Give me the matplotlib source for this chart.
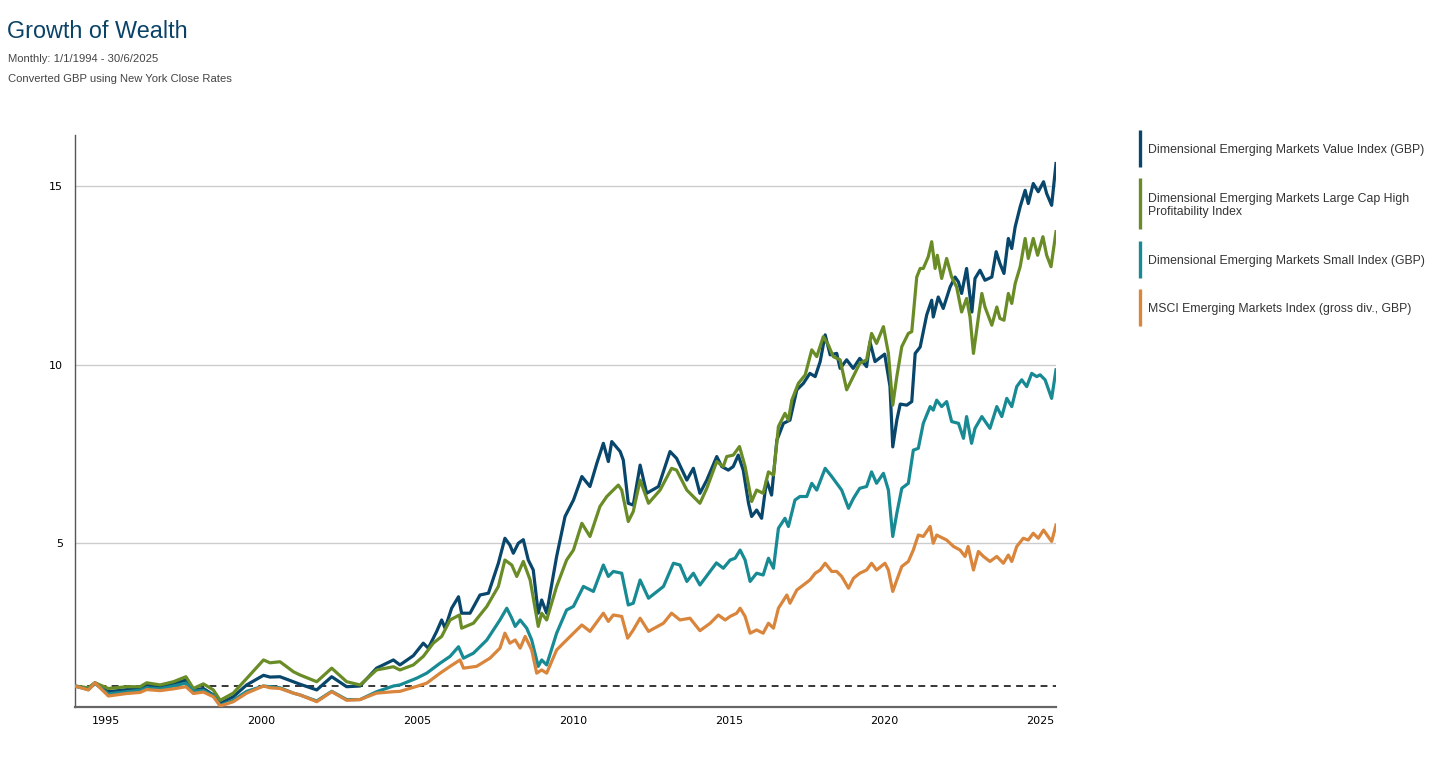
import matplotlib
matplotlib.use("Agg")
from matplotlib import pyplot as plt
from matplotlib.lines import Line2D

# growth of wealth (decimal year, value)
value_years = [1994.0, 1994.44, 1994.65, 1995.08, 1995.67, 1996.1, 1996.31, 1996.74, 1997.17, 1997.57,
               1997.81, 1998.13, 1998.45, 1998.67, 1999.09, 1999.52, 2000.06, 2000.27, 2000.59, 2001.02,
               2001.23, 2001.77, 2002.25, 2002.73, 2003.16, 2003.69, 2004.23, 2004.44, 2004.87, 2005.19,
               2005.35, 2005.62, 2005.78, 2005.89, 2006.1, 2006.32, 2006.42, 2006.69, 2007.01, 2007.28,
               2007.6, 2007.81, 2007.97, 2008.08, 2008.24, 2008.4, 2008.56, 2008.72, 2008.88, 2008.99,
               2009.15, 2009.47, 2009.74, 2010.01, 2010.28, 2010.54, 2010.76, 2010.97, 2011.13, 2011.24,
               2011.51, 2011.61, 2011.77, 2011.93, 2012.15, 2012.36, 2012.74, 2013.11, 2013.32, 2013.65,
               2013.86, 2014.07, 2014.29, 2014.61, 2014.77, 2014.98, 2015.14, 2015.3, 2015.46, 2015.63,
               2015.73, 2015.89, 2016.05, 2016.21, 2016.37, 2016.54, 2016.75, 2016.96, 2017.18, 2017.39,
               2017.6, 2017.77, 2017.93, 2018.09, 2018.25, 2018.46, 2018.57, 2018.78, 2018.99, 2019.2,
               2019.42, 2019.53, 2019.69, 2020.0, 2020.17, 2020.26, 2020.39, 2020.5, 2020.71, 2020.87,
               2020.98, 2021.14, 2021.35, 2021.51, 2021.56, 2021.72, 2021.88, 2022.1, 2022.26, 2022.37,
               2022.47, 2022.63, 2022.8, 2022.9, 2023.06, 2023.22, 2023.44, 2023.58, 2023.7, 2023.83,
               2023.97, 2024.08, 2024.19, 2024.35, 2024.51, 2024.61, 2024.77, 2024.93, 2025.1, 2025.2,
               2025.36, 2025.5]
value_vals = [1.0, 0.93, 1.09, 0.84, 0.9, 0.95, 1.03, 0.98, 1.05, 1.17,
              0.89, 0.93, 0.75, 0.51, 0.7, 1.03, 1.3, 1.25, 1.26, 1.12,
              1.05, 0.89, 1.26, 0.98, 1.0, 1.5, 1.73, 1.59, 1.85, 2.2,
              2.06, 2.53, 2.85, 2.62, 3.18, 3.5, 3.04, 3.04, 3.55, 3.6,
              4.44, 5.14, 4.95, 4.72, 5.0, 5.1, 4.53, 4.25, 3.04, 3.41,
              3.04, 4.63, 5.75, 6.21, 6.87, 6.59, 7.24, 7.8, 7.29, 7.85,
              7.57, 7.33, 6.12, 6.07, 7.19, 6.4, 6.59, 7.57, 7.38, 6.77,
              7.1, 6.4, 6.77, 7.43, 7.15, 7.05, 7.15, 7.47, 7.05, 6.12,
              5.75, 5.93, 5.7, 6.77, 6.35, 7.89, 8.36, 8.45, 9.3, 9.48,
              9.76, 9.67, 10.09, 10.84, 10.28, 10.32, 9.9, 10.14, 9.9, 10.18,
              9.95, 10.64, 10.09, 10.3, 9.4, 7.7, 8.45, 8.9, 8.87, 8.97,
              10.32, 10.5, 11.4, 11.81, 11.34, 11.9, 11.58, 12.18, 12.46, 12.32,
              12.0, 12.7, 11.48, 12.42, 12.65, 12.37, 12.46, 13.17, 12.84, 12.56,
              13.54, 13.26, 13.87, 14.43, 14.89, 14.52, 15.08, 14.85, 15.13, 14.8,
              14.47, 15.64]

hiprof_years = [1994.0, 1994.44, 1994.65, 1995.08, 1995.67, 1996.1, 1996.31, 1996.74, 1997.17, 1997.57,
                1997.81, 1998.13, 1998.45, 1998.67, 1999.09, 1999.52, 2000.06, 2000.27, 2000.59, 2001.02,
                2001.23, 2001.77, 2002.25, 2002.73, 2003.16, 2003.69, 2004.23, 2004.44, 2004.87, 2005.19,
                2005.51, 2005.78, 2006.05, 2006.35, 2006.42, 2006.8, 2007.23, 2007.6, 2007.81, 2008.03,
                2008.19, 2008.4, 2008.62, 2008.88, 2008.99, 2009.15, 2009.47, 2009.79, 2010.01, 2010.28,
                2010.54, 2010.86, 2011.08, 2011.45, 2011.56, 2011.77, 2011.93, 2012.15, 2012.42, 2012.79,
                2013.16, 2013.32, 2013.65, 2014.07, 2014.29, 2014.61, 2014.82, 2014.93, 2015.14, 2015.34,
                2015.52, 2015.73, 2015.89, 2016.1, 2016.27, 2016.43, 2016.59, 2016.8, 2016.91, 2017.02,
                2017.23, 2017.45, 2017.66, 2017.82, 2018.03, 2018.19, 2018.35, 2018.57, 2018.78, 2018.99,
                2019.2, 2019.42, 2019.58, 2019.74, 2019.96, 2020.12, 2020.26, 2020.39, 2020.55, 2020.76,
                2020.87, 2021.03, 2021.14, 2021.24, 2021.4, 2021.51, 2021.62, 2021.69, 2021.83, 2021.99,
                2022.15, 2022.31, 2022.47, 2022.63, 2022.74, 2022.85, 2023.01, 2023.12, 2023.22, 2023.44,
                2023.6, 2023.7, 2023.83, 2023.97, 2024.08, 2024.19, 2024.35, 2024.51, 2024.61, 2024.77,
                2024.91, 2025.08, 2025.2, 2025.34, 2025.5]
hiprof_vals = [1.0, 0.95, 1.09, 0.93, 0.98, 0.98, 1.09, 1.03, 1.12, 1.26,
               0.93, 1.06, 0.89, 0.6, 0.8, 1.21, 1.73, 1.65, 1.68, 1.4,
               1.31, 1.12, 1.5, 1.12, 1.03, 1.45, 1.54, 1.45, 1.59, 1.83,
               2.2, 2.39, 2.85, 2.99, 2.62, 2.76, 3.23, 3.79, 4.53, 4.39,
               4.07, 4.49, 3.97, 2.67, 3.04, 2.85, 3.79, 4.53, 4.81, 5.56,
               5.19, 6.03, 6.31, 6.63, 6.49, 5.61, 5.89, 6.77, 6.12, 6.49,
               7.1, 7.05, 6.49, 6.12, 6.54, 7.29, 7.15, 7.43, 7.47, 7.71,
               7.15, 6.17, 6.49, 6.4, 7.0, 6.91, 8.27, 8.64, 8.45, 9.01,
               9.48, 9.72, 10.42, 10.23, 10.79, 10.56, 10.23, 10.14, 9.3, 9.67,
               10.04, 10.14, 10.88, 10.6, 11.07, 10.32, 8.87, 9.67, 10.51, 10.88,
               10.93, 12.46, 12.7, 12.7, 13.03, 13.45, 12.7, 13.07, 12.42, 12.98,
               12.46, 12.18, 11.48, 11.86, 11.34, 10.32, 11.34, 12.0, 11.62, 11.11,
               11.62, 11.3, 11.25, 12.0, 11.72, 12.28, 12.75, 13.54, 12.98, 13.54,
               13.07, 13.59, 13.07, 12.75, 13.73]

small_years = [1994.0, 1994.44, 1994.65, 1995.08, 1995.67, 1996.1, 1996.31, 1996.74, 1997.17, 1997.57,
               1997.81, 1998.13, 1998.45, 1998.67, 1999.09, 1999.52, 2000.06, 2000.27, 2000.59, 2001.02,
               2001.23, 2001.77, 2002.25, 2002.73, 2003.16, 2003.69, 2004.23, 2004.44, 2004.98, 2005.3,
               2005.73, 2006.05, 2006.32, 2006.48, 2006.8, 2007.23, 2007.65, 2007.87, 2008.03, 2008.14,
               2008.3, 2008.51, 2008.67, 2008.88, 2008.99, 2009.15, 2009.47, 2009.79, 2010.01, 2010.33,
               2010.65, 2010.97, 2011.13, 2011.29, 2011.56, 2011.77, 2011.93, 2012.15, 2012.42, 2012.9,
               2013.22, 2013.43, 2013.65, 2013.86, 2014.07, 2014.6, 2014.82, 2015.04, 2015.2, 2015.36,
               2015.52, 2015.68, 2015.89, 2016.1, 2016.27, 2016.43, 2016.59, 2016.8, 2016.91, 2017.12,
               2017.28, 2017.5, 2017.66, 2017.82, 2018.09, 2018.3, 2018.46, 2018.62, 2018.84, 2019.0,
               2019.2, 2019.42, 2019.58, 2019.74, 2019.96, 2020.12, 2020.26, 2020.39, 2020.55, 2020.76,
               2020.92, 2021.08, 2021.24, 2021.46, 2021.56, 2021.67, 2021.83, 2021.99, 2022.15, 2022.37,
               2022.53, 2022.63, 2022.79, 2022.9, 2023.12, 2023.38, 2023.6, 2023.76, 2023.92, 2024.08,
               2024.24, 2024.4, 2024.56, 2024.72, 2024.88, 2024.99, 2025.15, 2025.36, 2025.5]
small_vals = [1.0, 0.9, 1.07, 0.78, 0.84, 0.88, 0.95, 0.92, 1.0, 1.08,
              0.85, 0.88, 0.73, 0.46, 0.6, 0.85, 1.0, 0.98, 0.95, 0.8,
              0.75, 0.58, 0.85, 0.62, 0.62, 0.84, 1.0, 1.03, 1.22, 1.36,
              1.64, 1.83, 2.1, 1.78, 1.92, 2.29, 2.85, 3.18, 2.9, 2.67,
              2.85, 2.62, 2.29, 1.55, 1.73, 1.59, 2.48, 3.13, 3.23, 3.79,
              3.65, 4.39, 4.07, 4.21, 4.16, 3.27, 3.32, 3.97, 3.46, 3.79,
              4.44, 4.39, 3.93, 4.16, 3.83, 4.45, 4.3, 4.53, 4.58, 4.81,
              4.53, 3.93, 4.16, 4.11, 4.58, 4.3, 5.42, 5.7, 5.47, 6.21,
              6.31, 6.31, 6.68, 6.49, 7.1, 6.87, 6.68, 6.49, 5.98, 6.26,
              6.54, 6.59, 7.0, 6.68, 6.96, 6.49, 5.19, 5.84, 6.54, 6.68,
              7.61, 7.66, 8.36, 8.83, 8.73, 9.01, 8.83, 8.97, 8.41, 8.36,
              7.94, 8.55, 7.8, 8.22, 8.55, 8.22, 8.83, 8.55, 9.06, 8.83,
              9.39, 9.58, 9.39, 9.76, 9.67, 9.72, 9.58, 9.06, 9.86]

msci_years = [1994.0, 1994.44, 1994.65, 1995.08, 1995.67, 1996.1, 1996.31, 1996.74, 1997.17, 1997.57,
              1997.81, 1998.13, 1998.45, 1998.67, 1999.09, 1999.52, 2000.06, 2000.27, 2000.59, 2001.02,
              2001.23, 2001.77, 2002.25, 2002.73, 2003.16, 2003.69, 2004.23, 2004.44, 2004.98, 2005.3,
              2005.73, 2006.05, 2006.37, 2006.48, 2006.9, 2007.33, 2007.65, 2007.81, 2007.97, 2008.14,
              2008.3, 2008.46, 2008.67, 2008.83, 2008.99, 2009.15, 2009.47, 2009.79, 2010.28, 2010.54,
              2010.97, 2011.13, 2011.29, 2011.56, 2011.75, 2011.93, 2012.15, 2012.42, 2012.9, 2013.16,
              2013.43, 2013.75, 2014.07, 2014.4, 2014.66, 2014.88, 2015.04, 2015.25, 2015.36, 2015.52,
              2015.68, 2015.89, 2016.1, 2016.27, 2016.43, 2016.59, 2016.86, 2016.96, 2017.18, 2017.39,
              2017.6, 2017.77, 2017.93, 2018.09, 2018.3, 2018.46, 2018.62, 2018.84, 2019.0, 2019.2,
              2019.42, 2019.58, 2019.74, 2020.01, 2020.12, 2020.26, 2020.39, 2020.55, 2020.76, 2020.92,
              2021.08, 2021.24, 2021.46, 2021.56, 2021.67, 2021.99, 2022.21, 2022.42, 2022.58, 2022.68,
              2022.85, 2023.01, 2023.17, 2023.38, 2023.6, 2023.81, 2023.97, 2024.08, 2024.24, 2024.45,
              2024.61, 2024.77, 2024.93, 2025.1, 2025.36, 2025.5]
msci_vals = [1.0, 0.89, 1.09, 0.72, 0.79, 0.82, 0.9, 0.87, 0.92, 0.98,
             0.79, 0.83, 0.7, 0.44, 0.56, 0.8, 1.0, 0.95, 0.93, 0.8,
             0.75, 0.56, 0.84, 0.6, 0.62, 0.8, 0.84, 0.85, 0.99, 1.08,
             1.36, 1.55, 1.73, 1.5, 1.55, 1.78, 2.06, 2.48, 2.2, 2.29,
             2.06, 2.39, 2.01, 1.36, 1.45, 1.36, 2.01, 2.29, 2.71, 2.53,
             3.04, 2.81, 2.99, 2.95, 2.34, 2.57, 2.9, 2.53, 2.76, 3.04,
             2.85, 2.9, 2.55, 2.76, 2.99, 2.85, 2.95, 3.04, 3.18, 2.95,
             2.48, 2.57, 2.48, 2.76, 2.62, 3.18, 3.55, 3.32, 3.69, 3.83,
             3.97, 4.16, 4.25, 4.44, 4.21, 4.21, 4.07, 3.74, 4.02, 4.16,
             4.25, 4.44, 4.25, 4.44, 4.25, 3.65, 3.97, 4.35, 4.49, 4.81,
             5.23, 5.19, 5.47, 5.0, 5.23, 5.09, 4.91, 4.81, 4.63, 4.91,
             4.25, 4.77, 4.63, 4.49, 4.63, 4.44, 4.67, 4.49, 4.91, 5.14,
             5.09, 5.28, 5.14, 5.37, 5.05, 5.51]

series_names = ["Dimensional Emerging Markets Value Index (GBP)",
                "Dimensional Emerging Markets Large Cap High Profitability Index",
                "Dimensional Emerging Markets Small Index (GBP)",
                "MSCI Emerging Markets Index (gross div., GBP)"]
legend_lines = [["Dimensional Emerging Markets Value Index (GBP)"],
                ["Dimensional Emerging Markets Large Cap High", "Profitability Index"],
                ["Dimensional Emerging Markets Small Index (GBP)"],
                ["MSCI Emerging Markets Index (gross div., GBP)"]]
colors = ["#08466b", "#6a8c27", "#188a94", "#d9853b"]
year_ticks = [1995, 2000, 2005, 2010, 2015, 2020, 2025]
value_ticks = [5, 10, 15]

W, H = 1456, 770
fig = plt.figure(figsize=(W / 100, H / 100), dpi=100)
ax = fig.add_axes([74.7 / W, 1 - 706.7 / H, (1056 - 74.7) / W, (706.7 - 135) / H])

all_series = [(value_years, value_vals), (hiprof_years, hiprof_vals),
              (small_years, small_vals), (msci_years, msci_vals)]
for (xs, ys), c, name in zip(all_series, colors, series_names):
    ax.plot(xs, ys, color=c, lw=2.3, label=name, solid_joinstyle="round", zorder=3)

# starting value reference line
ax.axhline(1, color="black", lw=1.1, ls=(0, (4.5, 3.5)), zorder=2)

ax.set_xlim(1994.0, 2025.5)
ax.set_ylim(0.42, 16.44)
ax.set_xticks(year_ticks)
ax.set_yticks(value_ticks)
ax.yaxis.grid(True, color="#cccccc", lw=1)
ax.set_axisbelow(True)
ax.tick_params(length=0, labelsize=8, colors="black")
ax.tick_params(axis="x", pad=7)
ax.tick_params(axis="y", pad=8.5)
for side in ["top", "right"]:
    ax.spines[side].set_visible(False)
ax.spines["left"].set_color("#555555")
ax.spines["left"].set_linewidth(1)
ax.spines["bottom"].set_color("#666666")
ax.spines["bottom"].set_linewidth(1.6)

sans = ["Liberation Sans", "DejaVu Sans"]
fig.text(7 / W, 1 - 38.3 / H, "Growth of Wealth", fontsize=16.8, color="#0a4368",
         family=sans, va="baseline")
fig.text(8 / W, 1 - 61.7 / H, "Monthly: 1/1/1994 - 30/6/2025", fontsize=8.1, color="#444444",
         family=sans, va="baseline")
fig.text(8 / W, 1 - 81.7 / H, "Converted GBP using New York Close Rates", fontsize=8.1,
         color="#444444", family=sans, va="baseline")

# legend: colored bars with text to the right
bars = [(130, 166.7), (178.3, 229.3), (241, 277.7), (289.3, 326)]
baselines = [[153.3], [201.7, 215.0], [264.0], [312.3]]
for (top, bot), lines, bl, c in zip(bars, legend_lines, baselines, colors):
    fig.add_artist(Line2D([1140 / W, 1140 / W], [1 - top / H, 1 - bot / H],
                          transform=fig.transFigure, color=c, lw=2.4, solid_capstyle="butt"))
    for txt, b in zip(lines, bl):
        fig.text(1147.5 / W, 1 - b / H, txt, fontsize=8.8, color="#333333",
                 family=sans, va="baseline")

fig.savefig("out.png", dpi=100)
